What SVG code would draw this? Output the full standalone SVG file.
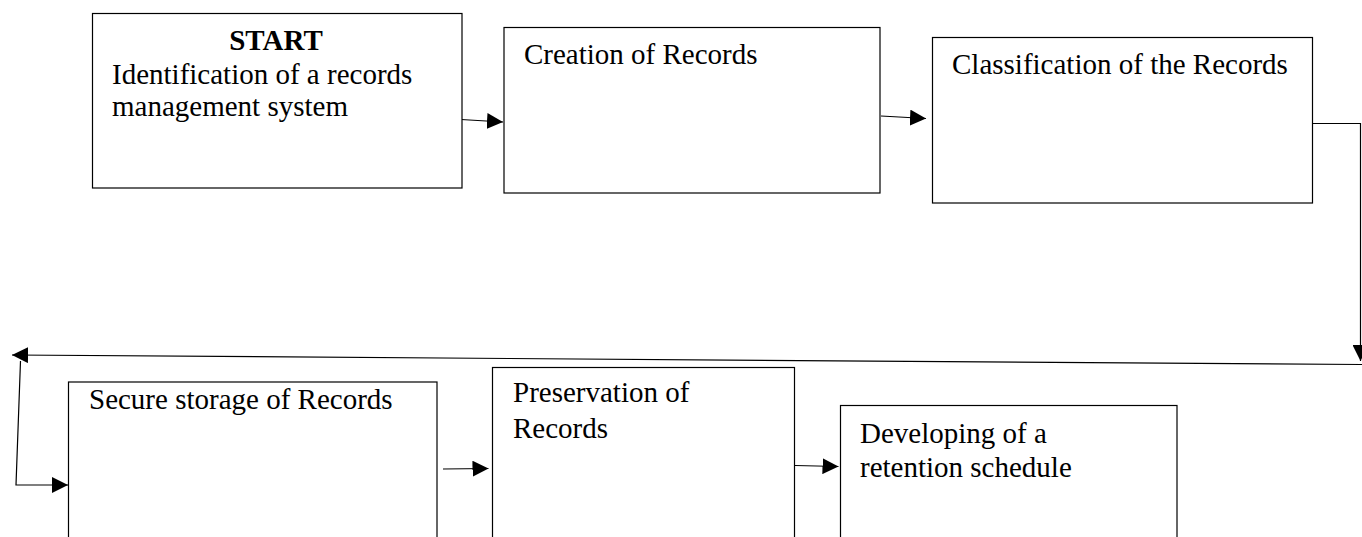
<svg xmlns="http://www.w3.org/2000/svg" width="1362" height="537" viewBox="0 0 1362 537">
<style>
.box{fill:#fff;stroke:#000;stroke-width:1.2}
.t{font-family:"Liberation Serif","Times New Roman",serif;font-size:29px;fill:#000}
.b{font-weight:bold}
.c{fill:none;stroke:#000;stroke-width:1.2}
</style>
<defs>
<marker id="ah" markerUnits="userSpaceOnUse" markerWidth="16" markerHeight="16" viewBox="0 0 15 15" refX="15" refY="7.5" orient="auto">
<path d="M0,0 L15,7.5 L0,15 z" fill="#000"/>
</marker>
</defs>
<rect width="1362" height="537" fill="#fff"/>
<g id="connectors">
<line class="c" x1="461" y1="119.5" x2="503" y2="122" marker-end="url(#ah)"/>
<line class="c" x1="881" y1="116" x2="926" y2="118.5" marker-end="url(#ah)"/>
<polyline class="c" points="1313,123.5 1360.5,123.5 1360.5,361" marker-end="url(#ah)"/>
<line class="c" x1="1362" y1="364.5" x2="12" y2="355" marker-end="url(#ah)"/>
<polyline class="c" points="20.5,361 16,485 68,485" marker-end="url(#ah)"/>
<line class="c" x1="443" y1="469" x2="488.5" y2="468.5" marker-end="url(#ah)"/>
<line class="c" x1="795" y1="465.5" x2="838.5" y2="466.5" marker-end="url(#ah)"/>
</g>
<g id="n1">
<rect class="box" x="92.5" y="13.5" width="369.5" height="174.5"/>
<text class="t b" x="276" y="50" text-anchor="middle">START</text>
<text class="t" x="112" y="84">Identification of a records</text>
<text class="t" x="112" y="116">management system</text>
</g>
<g id="n2">
<rect class="box" x="504" y="27.5" width="376" height="165.5"/>
<text class="t" x="524" y="64">Creation of Records</text>
</g>
<g id="n3">
<rect class="box" x="932.5" y="37.5" width="380" height="165.5"/>
<text class="t" x="952" y="74">Classification of the Records</text>
</g>
<g id="n4">
<rect class="box" x="68.5" y="382" width="368.5" height="170"/>
<text class="t" x="89" y="409">Secure storage of Records</text>
</g>
<g id="n5">
<rect class="box" x="492.5" y="367.5" width="302" height="185"/>
<text class="t" x="513" y="402">Preservation of</text>
<text class="t" x="513" y="438">Records</text>
</g>
<g id="n6">
<rect class="box" x="840.5" y="405.5" width="336.5" height="150"/>
<text class="t" x="860" y="443">Developing of a</text>
<text class="t" x="860" y="477">retention schedule</text>
</g>
</svg>
